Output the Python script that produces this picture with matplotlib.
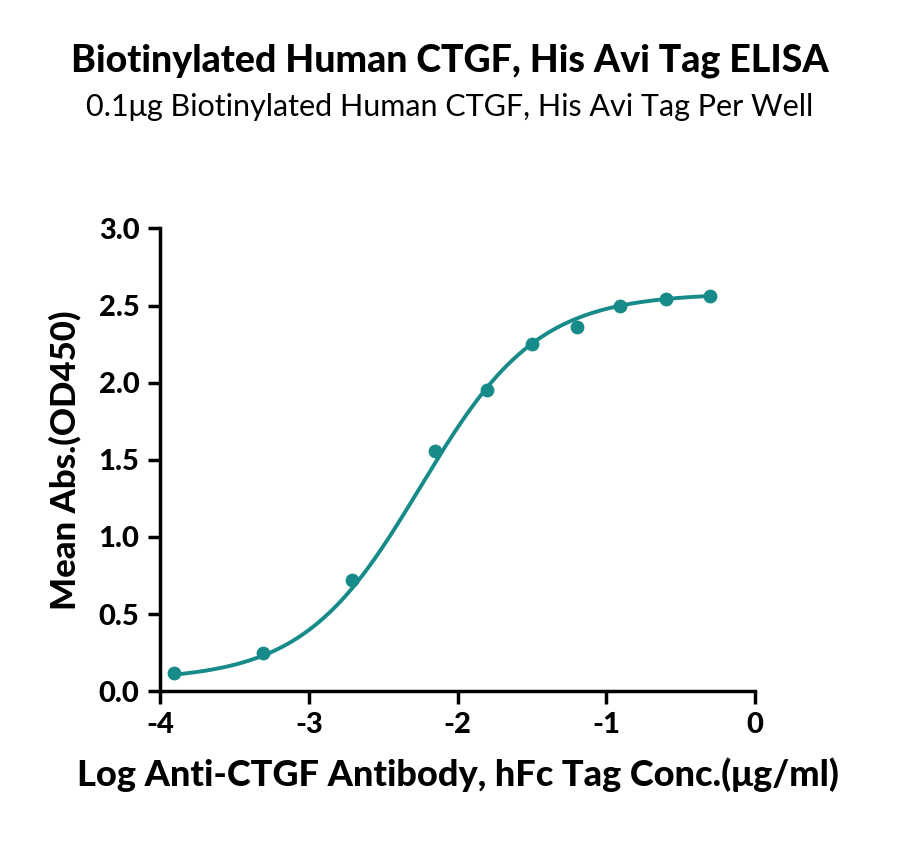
import numpy as np
import matplotlib
matplotlib.use("Agg")
import matplotlib.pyplot as plt

log_conc = [-3.91, -3.31, -2.71, -2.15, -1.80, -1.50, -1.20, -0.91, -0.60, -0.30]
od450 = [0.12, 0.25, 0.72, 1.56, 1.95, 2.25, 2.36, 2.50, 2.54, 2.56]
# 4PL curve parameters
bottom, top, log_ec50, hill = 0.07, 2.58, -2.25, 1.1

plt.rcParams['font.family'] = ['Lato', 'DejaVu Sans']
color = '#178a8a'
W = 'black'

fig = plt.figure(figsize=(9, 8.46), dpi=100)
ax = fig.add_axes([0.178, 0.183, 0.661, 0.547])
xs = np.linspace(min(log_conc), max(log_conc), 300)
ys = bottom + (top - bottom) / (1 + 10 ** (hill * (log_ec50 - xs)))
ax.plot(xs, ys, color=color, lw=2.8)
ax.scatter(log_conc, od450, color=color, s=80, zorder=3)
ax.set_xlim(-4, 0)
ax.set_ylim(0, 3)
ax.set_xticks([-4, -3, -2, -1, 0])
ax.set_xticklabels(['-4', '-3', '-2', '-1', '0'])
ax.set_yticks([0, 0.5, 1, 1.5, 2, 2.5, 3])
ax.set_yticklabels(['0.0', '0.5', '1.0', '1.5', '2.0', '2.5', '3.0'])
for s in ['top', 'right']:
    ax.spines[s].set_visible(False)
for s in ['left', 'bottom']:
    ax.spines[s].set_linewidth(2.5)
ax.tick_params(width=2.5, length=9, labelsize=21, pad=6)
for l in ax.get_xticklabels() + ax.get_yticklabels():
    l.set_fontweight(W)
ax.set_xlabel('Log Anti-CTGF Antibody, hFc Tag Conc.(μg/ml)', fontsize=26, fontweight=W, labelpad=14)
ax.set_ylabel('Mean Abs.(OD450)', fontsize=25, fontweight=W, labelpad=12)
fig.text(0.5, 0.928, 'Biotinylated Human CTGF, His Avi Tag ELISA', ha='center', va='center', fontsize=27, fontweight=W)
fig.text(0.5, 0.873, '0.1μg Biotinylated Human CTGF, His Avi Tag Per Well', ha='center', va='center', fontsize=22)
fig.savefig('out.png', dpi=100, facecolor='white')
